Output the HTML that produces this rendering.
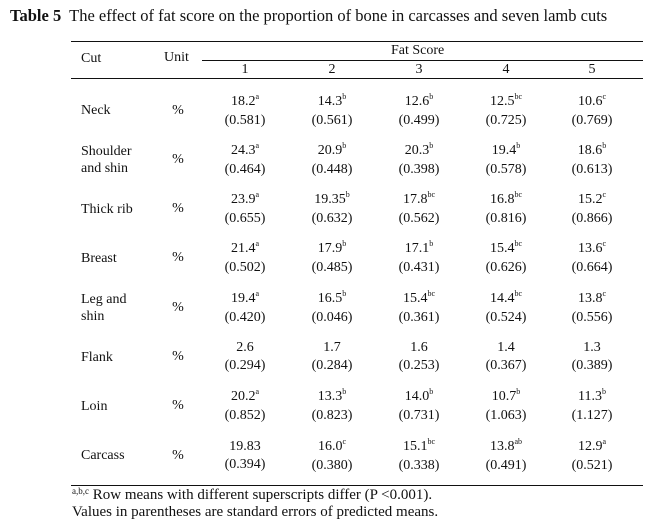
<!DOCTYPE html>
<html><head><meta charset="utf-8"><style>
body{margin:0;width:648px;height:529px;background:#fff;position:relative;font-family:"Liberation Serif",serif;color:#111;overflow:hidden}
.a{position:absolute;white-space:nowrap;line-height:1}
.ln{position:absolute;height:1px;background:#111}
.c{position:absolute;transform:translateX(-50%);text-align:center;font-size:14px;line-height:18px;white-space:nowrap}
sup{font-size:8px;vertical-align:0;position:relative;top:-6px}
.lab{position:absolute;font-size:14px;line-height:17px;left:81px}
</style></head><body>
<div class="a" style="left:10px;top:8px;font-size:16.5px"><b>Table 5</b>&nbsp; The effect of fat score on the proportion of bone in carcasses and seven lamb cuts</div>
<div class="ln" style="left:71px;width:572px;top:41px"></div>
<div class="ln" style="left:202px;width:441px;top:60px"></div>
<div class="ln" style="left:71px;width:572px;top:78px"></div>
<div class="ln" style="left:71px;width:572px;top:485px"></div>
<div class="a" style="left:81px;top:52px;font-size:14px">Cut</div>
<div class="a" style="left:164px;top:51px;font-size:14px">Unit</div>
<div class="a" style="left:391px;top:44px;font-size:14px">Fat Score</div>
<div id="t"></div>
<div class="a" style="left:72px;top:488px;font-size:15px"><sup style="top:-5px;font-size:9px">a,b,c</sup> Row means with different superscripts differ (P &lt;0.001).</div>
<div class="a" style="left:72px;top:505px;font-size:15px">Values in parentheses are standard errors of predicted means.</div>
<script>
const cuts=["Neck","Shoulder<br>and shin","Thick rib","Breast","Leg and<br>shin","Flank","Loin","Carcass"];
const vals=[["18.2","14.3","12.6","12.5","10.6"],["24.3","20.9","20.3","19.4","18.6"],["23.9","19.35","17.8","16.8","15.2"],["21.4","17.9","17.1","15.4","13.6"],["19.4","16.5","15.4","14.4","13.8"],["2.6","1.7","1.6","1.4","1.3"],["20.2","13.3","14.0","10.7","11.3"],["19.83","16.0","15.1","13.8","12.9"]];
const sups=[["a","b","b","bc","c"],["a","b","b","b","b"],["a","b","bc","bc","c"],["a","b","b","bc","c"],["a","b","bc","bc","c"],["","","","",""],["a","b","b","b","b"],["","c","bc","ab","a"]];
const ses=[["0.581","0.561","0.499","0.725","0.769"],["0.464","0.448","0.398","0.578","0.613"],["0.655","0.632","0.562","0.816","0.866"],["0.502","0.485","0.431","0.626","0.664"],["0.420","0.046","0.361","0.524","0.556"],["0.294","0.284","0.253","0.367","0.389"],["0.852","0.823","0.731","1.063","1.127"],["0.394","0.380","0.338","0.491","0.521"]];
const scores=["1","2","3","4","5"];
const colX=[245,332,419,506,592];
const t=document.getElementById('t');
scores.forEach((s,j)=>{const d=document.createElement('div');d.className='c';d.style.left=colX[j]+'px';d.style.top='61px';d.textContent=s;


t.appendChild(d);});
cuts.forEach((c,i)=>{const y=110.5+i*49.3;
const l=document.createElement('div');l.className='lab';l.innerHTML=c;const two=c.includes('<br>');l.style.top=(y-(two?17:8.5))+'px';


t.appendChild(l);
const u=document.createElement('div');u.className='c';u.style.left='178px';u.style.top=(y-9)+'px';u.textContent='%';


t.appendChild(u);
vals[i].forEach((v,j)=>{const d=document.createElement('div');d.className='c';d.style.left=colX[j]+'px';d.style.top=(y-18)+'px';
d.innerHTML=v+(sups[i][j]?'<sup>'+sups[i][j]+'</sup>':'')+'<br>('+ses[i][j]+')';


t.appendChild(d);});
});
</script>
</body></html>
